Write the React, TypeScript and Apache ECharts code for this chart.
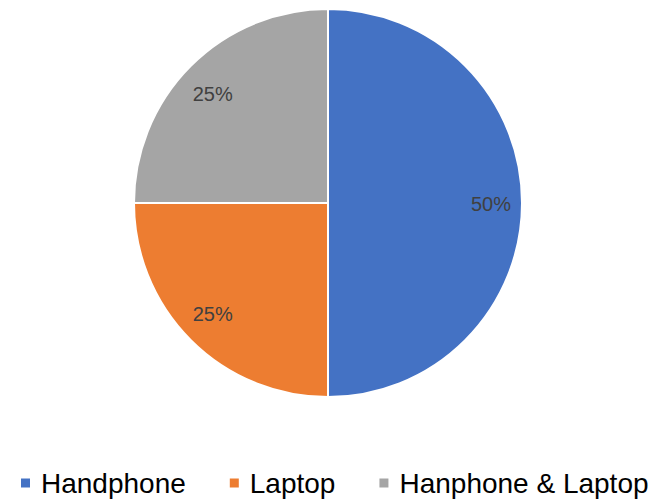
import React, { useEffect, useRef } from "react";
import * as echarts from "echarts";

const categories = ["Handphone", "Laptop", "Hanphone & Laptop"];
const values = [50, 25, 25];
const colors = ["#4472C4", "#ED7D31", "#A5A5A5"];

export default function App() {
  const ref = useRef<HTMLDivElement>(null);
  useEffect(() => {
    document.body.style.margin = "0";
    if (!ref.current) return;
    const chart = echarts.init(ref.current, undefined, { renderer: "svg" });
    const data = categories.map((name, i) => ({ name, value: values[i] }));
    const labelOffsets = [[0, 1], [0, -4], [0, 6]];
    const labelData = data.map((d, i) => ({ ...d, label: { offset: labelOffsets[i] } }));
    const total = values.reduce((a, b) => a + b, 0);
    chart.setOption({
      animation: false,
      color: colors,
      legend: {
        data: categories,
        left: 14,
        top: 464,
        icon: "rect",
        itemWidth: 11,
        itemHeight: 11,
        itemGap: 42,
        textStyle: {
          fontSize: 28,
          color: "#000",
          fontFamily: "Liberation Sans, Arial",
          padding: [0, 0, 0, 5],
        },
      },
      series: [
        {
          type: "pie",
          center: [328, 203],
          radius: [0, 194],
          startAngle: 90,
          clockwise: true,
          label: { show: false },
          labelLine: { show: false },
          itemStyle: { borderColor: "#fff", borderWidth: 2 },
          emphasis: { disabled: true },
          data,
        },
        {
          type: "pie",
          center: [328, 203],
          radius: [126, 194],
          startAngle: 90,
          clockwise: true,
          silent: true,
          legendHoverLink: false,
          itemStyle: { color: "transparent", borderWidth: 0 },
          label: {
            show: true,
            position: "inside",
            formatter: (p: any) => `${Math.round((p.value / total) * 100)}%`,
            fontSize: 20,
            color: "#404040",
            fontFamily: "Liberation Sans, Arial",
          },
          labelLine: { show: false },
          emphasis: { disabled: true },
          data: labelData,
        },
      ],
    });
    return () => chart.dispose();
  }, []);
  return <div ref={ref} style={{ width: 657, height: 502 }} />;
}
